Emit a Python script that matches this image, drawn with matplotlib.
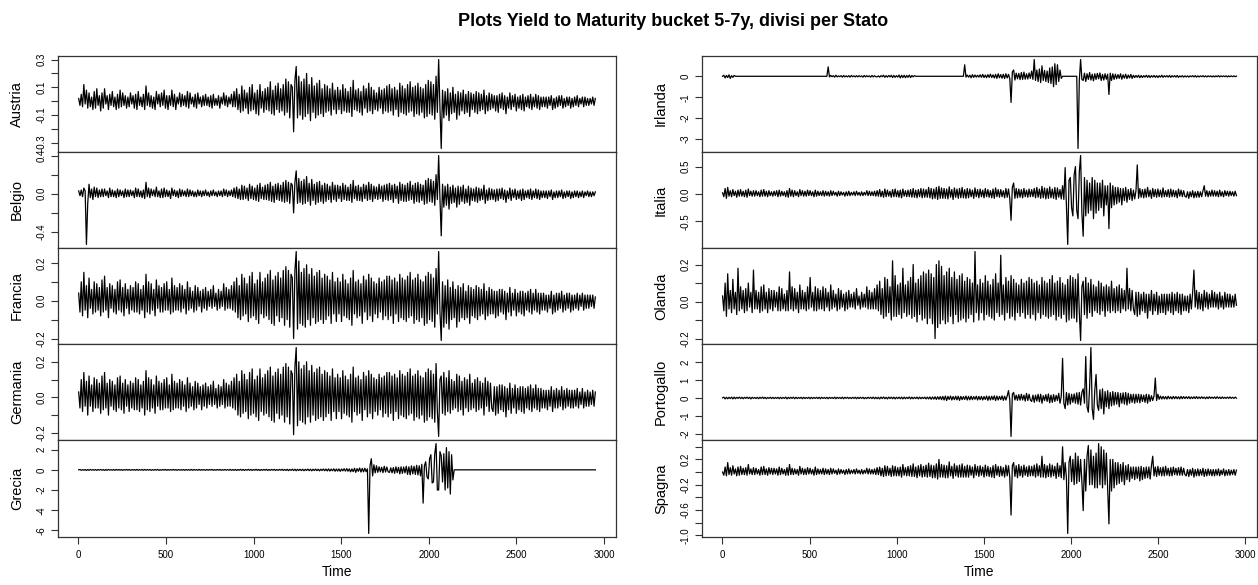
import numpy as np
import matplotlib
matplotlib.use("Agg")
import matplotlib.pyplot as plt

plt.rcParams['font.family'] = ['Liberation Sans', 'DejaVu Sans']

n_obs = 2950

# values in hundredths
austria = [
    2, -3, 5, -4, 12, -2, 8, -5, 6, -4, 3, -6, 7, -5, 9, -3, 4, -7, 6, -5, 9, -2, 4, -6, 5, -3, 7, -4, 3, -6, 5, -5, 8, -4, 6, -3, 4, -5, 3, -4,
    6, -2, 4, -5, 5, -6, 7, -3, 3, -4, 5, -6, 11, -3, 6, -4, 4, -5, 3, -6, 7, -2, 5, -4, 6, -3, 8, -5, 4, -6, 4, -3, 8, -4, 5, -6, 3, -2, 6, -4,
    5, -3, 4, -4, 7, -5, 6, -2, 3, -4, 5, -5, 6, -2, 3, -4, 4, -3, 5, -3, 3, -4, 4, -5, 5, -3, 2, -3, 4, -5, 3, -2, 6, -3, 4, -4, 3, -2, 5, -4,
    7, -4, 9, -6, 5, -8, 11, -7, 8, -5, 6, -9, 10, -7, 12, -6, 6, -9, 8, -10, 12, -5, 7, -8, 9, -6, 10, -7, 14, -9, 8, -10, 11, -6, 13, -8, 9, -7, 12, -10,
    16, -8, 14, -12, 12, 10, -22, 15, 25, -12, 18, -10, 14, -13, 16, -11, 20, -9, 12, -14, 17, -8, 11, -12, 13, -10, 15, -9, 9, -11, 12, -8, 11, -7, 9, -10, 13, -6, 8, -9,
    10, -6, 8, -9, 12, -7, 9, -8, 7, -8, 10, -11, 15, -6, 8, -7, 9, -8, 7, -10, 11, -5, 9, -8, 13, -7, 10, -9, 8, -6, 6, -7, 10, -5, 8, -9, 9, -7, 11, -8,
    12, -7, 9, -10, 10, -6, 8, -11, 13, -8, 11, -9, 9, -10, 12, -8, 14, -7, 10, -11, 11, -9, 13, -10, 10, -8, 9, -12, 12, -11, 15, -9, 14, -10, 12, -13, 18, -8, 30, -5,
    -34, 8, -12, 7, -10, 9, -14, 6, -9, 10, -8, 5, -13, 7, -10, 6, -7, 8, -9, 5, -8, 7, -11, 6, -6, 5, -8, 7, -9, 6, -7, 5, -6, 8, -9, 4, -7, 6, -6, 5,
    -5, 4, -7, 4, -8, 5, -5, 6, -6, 4, -9, 3, -5, 6, -6, 4, -4, 5, -7, 3, -5, 4, -6, 5, -7, 3, -4, 4, -5, 5, -6, 3, -4, 5, -5, 4, -6, 3, -4, 3,
    -4, 3, -5, 3, -3, 4, -6, 2, -5, 3, -4, 4, -3, 4, -5, 2, -4, 3, -3, 3, -5, 2, -4, 3, -3, 4, -4, 2, -2, 3, -4, 3, -3, 2, -3, 2, -2, 3, -3, 2,
]
belgio = [
    3, -2, 4, -3, 6, 3, -53, -10, 10, -4, 5, -6, 7, -3, 6, -4, 4, -3, 5, -3, 5, -2, 3, -4, 6, -3, 4, -3, 3, -4, 5, -3, 4, -2, 3, -4, 5, -3, 4, -3,
    4, -2, 3, -4, 6, -3, 5, -3, 3, -4, 4, -5, 12, -3, 6, -4, 5, -2, 4, -3, 7, -3, 3, -4, 5, -4, 6, -3, 4, -3, 3, -5, 6, -2, 4, -3, 3, -4, 5, -3,
    4, -2, 3, -3, 5, -3, 4, -2, 3, -3, 2, -3, 4, -2, 3, -3, 3, -2, 4, -2, 2, -3, 3, -2, 4, -2, 2, -3, 3, -2, 3, -3, 5, -2, 4, -3, 3, -2, 4, -3,
    6, -4, 7, -5, 5, -6, 9, -6, 8, -5, 6, -7, 10, -5, 8, -6, 6, -7, 9, -8, 11, -5, 7, -6, 9, -6, 10, -7, 12, -8, 8, -9, 10, -6, 11, -7, 9, -8, 12, -9,
    14, -8, 12, -10, 11, 9, -20, 12, 24, -10, 16, -9, 13, -11, 15, -10, 18, -8, 11, -12, 15, -7, 10, -11, 12, -9, 13, -8, 9, -10, 11, -8, 10, -6, 8, -9, 12, -6, 9, -8,
    9, -5, 8, -8, 11, -6, 9, -7, 7, -7, 10, -9, 14, -5, 8, -7, 9, -7, 7, -8, 10, -5, 9, -7, 12, -6, 10, -8, 8, -5, 7, -6, 10, -5, 8, -8, 9, -6, 10, -7,
    11, -6, 9, -9, 10, -5, 8, -10, 12, -7, 10, -8, 9, -8, 11, -7, 13, -6, 9, -10, 11, -8, 12, -9, 10, -7, 9, -11, 14, -10, 16, -8, 15, -9, 13, -12, 20, -6, 40, -5,
    -44, 10, -14, 8, -12, 10, -16, 7, -10, 9, -9, 6, -14, 8, -11, 7, -8, 9, -10, 5, -9, 8, -12, 6, -7, 5, -8, 7, -9, 6, -7, 5, -6, 9, -10, 4, -7, 6, -6, 5,
    -6, 4, -8, 5, -7, 5, -5, 6, -6, 4, -9, 3, -5, 6, -7, 4, -4, 5, -6, 3, -5, 4, -7, 5, -6, 3, -4, 4, -5, 5, -6, 3, -4, 5, -5, 4, -6, 3, -4, 3,
    -4, 3, -5, 3, -3, 4, -6, 2, -4, 3, -4, 3, -3, 4, -5, 2, -4, 3, -3, 3, -5, 2, -4, 3, -3, 3, -4, 2, -3, 3, -4, 2, -2, 3, -3, 2, -3, 2, -2, 2,
]
francia = [
    4, -6, 10, -8, 15, -5, 8, -9, 12, -4, 6, -7, 10, -6, 9, -5, 7, -8, 11, -6, 13, -5, 7, -9, 9, -4, 8, -6, 6, -7, 10, -5, 11, -6, 7, -8, 9, -4, 6, -7,
    8, -5, 7, -6, 10, -6, 9, -7, 6, -5, 8, -9, 14, -6, 10, -7, 9, -5, 6, -8, 11, -4, 8, -6, 7, -6, 9, -5, 10, -5, 6, -7, 12, -6, 8, -5, 7, -5, 9, -6,
    8, -4, 6, -7, 10, -5, 7, -4, 5, -6, 8, -5, 7, -3, 5, -6, 6, -4, 7, -5, 5, -3, 6, -4, 8, -3, 4, -5, 6, -4, 5, -3, 9, -5, 7, -4, 6, -4, 8, -5,
    10, -6, 12, -9, 8, -10, 14, -8, 12, -7, 9, -11, 13, -9, 15, -8, 9, -10, 11, -12, 15, -7, 10, -9, 12, -8, 14, -10, 16, -12, 11, -13, 13, -8, 15, -11, 12, -9, 16, -13,
    18, -10, 16, -14, 14, 12, -20, 16, 26, -15, 21, -12, 15, -13, 17, -14, 19, -10, 14, -13, 17, -9, 13, -12, 15, -11, 16, -10, 12, -12, 14, -10, 13, -8, 11, -12, 15, -7, 10, -11,
    12, -7, 10, -11, 14, -8, 11, -9, 9, -10, 12, -13, 16, -7, 10, -9, 11, -8, 9, -12, 13, -6, 11, -10, 14, -8, 12, -11, 10, -7, 9, -9, 12, -6, 10, -10, 11, -8, 13, -10,
    13, -8, 11, -12, 12, -7, 10, -11, 14, -9, 12, -10, 11, -11, 13, -9, 15, -8, 11, -12, 12, -10, 14, -11, 11, -9, 10, -13, 13, -12, 15, -10, 14, -11, 12, -14, 17, -7, 26, -6,
    -21, 10, -14, 8, -12, 11, -15, 7, -10, 10, -9, 6, -14, 8, -11, 7, -9, 9, -10, 5, -9, 8, -12, 7, -8, 6, -9, 8, -10, 7, -8, 6, -7, 9, -10, 5, -8, 7, -7, 6,
    -7, 5, -9, 5, -8, 6, -6, 6, -7, 5, -10, 4, -6, 7, -8, 4, -5, 6, -8, 4, -6, 5, -7, 5, -8, 4, -5, 5, -6, 6, -7, 4, -5, 6, -6, 4, -7, 4, -5, 4,
    -5, 3, -6, 3, -4, 5, -7, 3, -6, 4, -5, 4, -4, 5, -6, 3, -5, 4, -4, 4, -6, 3, -5, 3, -4, 4, -5, 3, -3, 4, -5, 3, -4, 3, -4, 3, -3, 3, -4, 2,
]
germania = [
    3, -6, 10, -8, 14, -5, 9, -10, 12, -5, 7, -8, 11, -6, 10, -6, 8, -9, 12, -7, 14, -6, 8, -10, 10, -5, 9, -7, 7, -8, 11, -6, 12, -7, 8, -9, 10, -5, 7, -8,
    9, -6, 8, -7, 11, -7, 10, -8, 7, -6, 9, -10, 15, -7, 11, -8, 10, -6, 7, -9, 12, -5, 9, -7, 8, -7, 10, -6, 11, -6, 7, -8, 13, -7, 9, -6, 8, -6, 10, -7,
    9, -5, 7, -8, 11, -6, 8, -5, 6, -7, 9, -6, 8, -4, 6, -7, 7, -5, 8, -6, 6, -4, 7, -5, 9, -4, 5, -6, 7, -5, 6, -4, 10, -6, 8, -5, 7, -5, 9, -6,
    11, -7, 13, -10, 9, -11, 15, -9, 13, -8, 10, -12, 14, -10, 16, -9, 10, -11, 12, -13, 16, -8, 11, -10, 13, -9, 15, -11, 17, -13, 12, -14, 14, -9, 16, -12, 13, -10, 17, -14,
    19, -11, 17, -15, 15, 13, -21, 17, 28, -16, 20, -13, 16, -14, 18, -15, 20, -11, 15, -14, 18, -10, 14, -13, 16, -12, 17, -11, 13, -13, 15, -11, 14, -9, 12, -13, 16, -8, 11, -12,
    13, -8, 11, -12, 15, -9, 12, -10, 10, -11, 13, -14, 17, -8, 11, -10, 12, -9, 10, -13, 14, -7, 12, -11, 15, -9, 13, -12, 11, -8, 10, -10, 13, -7, 11, -11, 12, -9, 14, -11,
    14, -9, 12, -13, 13, -8, 11, -12, 15, -10, 13, -11, 12, -12, 14, -10, 16, -9, 12, -13, 13, -11, 15, -12, 12, -10, 11, -14, 14, -13, 16, -11, 15, -12, 13, -14, 19, -8, -22, 10,
    12, -9, 14, -10, 11, -8, 15, -9, 10, -7, 9, -6, 13, -8, 12, -7, 9, -10, 11, -6, 10, -8, 13, -7, 8, -6, 10, -8, 11, -7, 9, -6, 8, -10, 11, -5, 9, -8, 8, -6,
    -8, 6, -10, 6, -9, 7, -7, 7, -8, 6, -11, 5, -7, 8, -9, 5, -6, 7, -9, 5, -7, 6, -8, 6, -9, 5, -6, 6, -7, 7, -8, 5, -6, 7, -7, 5, -8, 5, -6, 4,
    -6, 4, -7, 4, -5, 6, -8, 4, -6, 5, -6, 4, -5, 6, -7, 4, -6, 5, -5, 4, -6, 4, -6, 4, -5, 5, -6, 3, -4, 5, -6, 3, -5, 4, -5, 3, -4, 4, -5, 3,
]
grecia = [
    0, 3, -5, 2, -4, 3, -6, 3, -5, 4, -3, 2, -4, 3, -5, 3, -3, 4, -4, 2, -6, 3, -5, 4, -3, 2, -4, 3, -5, 4, -3, 3, -4, 3, -5, 2, -3, 4, -4, 3,
    -4, 2, -3, 3, -5, 4, -4, 2, -3, 3, -5, 4, -4, 3, -3, 3, -5, 2, -4, 3, -3, 4, -5, 2, -4, 3, -3, 4, -5, 3, -4, 2, -3, 4, -4, 3, -5, 3, -3, 2,
    -4, 3, -5, 3, -3, 2, -4, 4, -5, 3, -3, 2, -4, 4, -5, 3, -3, 2, -4, 3, -4, 3, -3, 4, -5, 2, -4, 3, -3, 4, -5, 2, -4, 3, -3, 3, -4, 4, -5, 3,
    -5, 4, -6, 3, -4, 5, -5, 4, -6, 3, -4, 5, -5, 4, -6, 3, -4, 5, -5, 4, -6, 3, -5, 4, -4, 5, -6, 3, -5, 4, -4, 5, -6, 3, -5, 4, -4, 5, -6, 4,
    -6, 5, -8, 4, -5, 6, -7, 6, -9, 5, -6, 5, -7, 6, -9, 5, -6, 7, -8, 6, -10, 6, -7, 7, -8, 6, -10, 6, -7, 8, -9, 8, -11, 9, -12, 7, -9, 10, -14, 8,
    -12, 9, -15, 8, -10, 11, -13, 12, -14, 10, -20, 9, -18, 15, -25, 12, -15, 18, -22, 14, -20, 16, -18, 10, -630, 40, 110, -60, 50, -30, 40, -25, 30, -20, 25, -28, 35, -22, 28, -20,
    -25, 20, -30, 22, -35, 30, -28, 25, -40, 30, -35, 28, -30, 35, -45, 30, -50, 40, -40, 35, -45, 45, -50, 40, -60, 55, -330, 40, 80, -70, -90, 110, 150, -130, -120, 160, 260, -200, -200, 180,
    140, -120, 160, -200, 220, -180, 180, -240, 150, -100, 0, 0, 0, 0, 0, 0, 0, 0, 0, 0, 0, 0, 0, 0, 0, 0, 0, 0, 0, 0, 0, 0, 0, 0, 0, 0, 0, 0, 0, 0,
    0, 0, 0, 0, 0, 0, 0, 0, 0, 0, 0, 0, 0, 0, 0, 0, 0, 0, 0, 0, 0, 0, 0, 0, 0, 0, 0, 0, 0, 0, 0, 0, 0, 0, 0, 0, 0, 0, 0, 0,
    0, 0, 0, 0, 0, 0, 0, 0, 0, 0, 0, 0, 0, 0, 0, 0, 0, 0, 0, 0, 0, 0, 0, 0, 0, 0, 0, 0, 0, 0, 0, 0, 0, 0, 0, 0, 0, 0, 0, 0,
]
irlanda = [
    0, 5, -8, 4, -6, 7, -10, 3, -5, 4, 0, 0, 0, 0, 0, 0, 0, 0, 0, 0, 0, 0, 0, 0, 0, 0, 0, 0, 0, 0, 0, 0, 0, 0, 0, 0, 0, 0, 0, 0,
    0, 0, 0, 0, 0, 0, 0, 0, 0, 0, 0, 0, 0, 0, 0, 0, 0, 0, 0, 0, 0, 0, 0, 0, 0, 0, 0, 0, 0, 0, 0, 0, 0, 0, 0, 0, 0, 0, 0, 0,
    0, 0, 45, -3, 4, -2, 3, -4, 5, -3, 2, -2, 3, -4, 4, -3, 2, -3, 3, -4, 4, -2, 2, -3, 3, -3, 3, -2, 2, -4, 4, -3, 3, -2, 2, -4, 4, -3, 3, -2,
    -3, 2, -4, 3, -2, 5, -5, 3, -4, 4, -3, 5, -6, 4, -5, 3, -4, 6, -8, 5, -6, 5, -7, 4, -5, 6, -6, 4, -3, 3, 0, 0, 0, 0, 0, 0, 0, 0, 0, 0,
    0, 0, 0, 0, 0, 0, 0, 0, 0, 0, 0, 0, 0, 0, 0, 0, 0, 0, 0, 0, 0, 0, 0, 0, 0, 0, 0, 0, 55, -4, 6, -4, 5, -7, 8, -5, 6, -4, 5, -4,
    7, -5, 9, -6, 6, -7, 8, -5, 10, -6, 7, -8, 9, -10, 12, -7, 8, -9, 10, -11, 12, -8, 9, -10, -125, 20, 30, -18, 15, -12, 14, -16, 18, -15, 20, -14, 12, -13, 16, -10,
    25, -15, 80, -20, 30, -25, 35, -30, 50, -20, 28, -25, 25, -30, 40, -35, 45, -50, 60, -40, 55, -25, 30, -10, 0, 0, 0, 0, 0, 0, 0, 0, 0, 0, 0, 0, -345, -20, 80, -15,
    -20, 15, -25, 12, -15, 18, -18, 10, -22, 12, -15, 14, -12, 16, -20, 9, -18, 12, -14, 10, -87, 15, -20, 12, -15, 10, -12, 8, -10, 12, -14, 7, -9, 10, -11, 6, -8, 9, -10, 5,
    -6, 4, -5, 5, -7, 4, -6, 3, -4, 5, -5, 4, -6, 3, -4, 4, -5, 3, -6, 3, -4, 5, -5, 3, -3, 3, -4, 4, -5, 3, -3, 3, -4, 4, -5, 2, -3, 3, -4, 2,
    -3, 2, -4, 2, -2, 3, -3, 3, -4, 2, -3, 2, -2, 3, -3, 2, -3, 2, -2, 2, -3, 2, -3, 2, -2, 3, -3, 2, -2, 2, -2, 2, -3, 2, -2, 2, -2, 2, -2, 1,
]
italia = [
    2, -5, 10, -8, 12, -4, 6, -5, 8, -3, 5, -6, 7, -4, 8, -4, 5, -5, 7, -6, 9, -3, 5, -4, 6, -4, 6, -3, 4, -5, 7, -4, 8, -4, 5, -5, 6, -3, 4, -4,
    5, -3, 6, -5, 7, -4, 5, -3, 4, -5, 6, -6, 10, -4, 7, -5, 6, -3, 4, -5, 8, -3, 6, -4, 5, -4, 7, -3, 6, -3, 4, -5, 7, -4, 5, -3, 4, -3, 6, -4,
    5, -3, 4, -4, 6, -3, 5, -2, 3, -4, 5, -3, 4, -2, 3, -4, 4, -3, 5, -3, 3, -2, 4, -3, 5, -2, 3, -3, 4, -3, 3, -2, 6, -3, 5, -3, 4, -3, 5, -4,
    6, -4, 8, -5, 5, -6, 9, -5, 7, -4, 5, -6, 8, -5, 9, -5, 6, -6, 7, -7, 9, -4, 6, -5, 7, -5, 8, -6, 10, -6, 7, -7, 8, -5, 10, -7, 9, -6, 8, -6,
    12, -7, 10, -9, 9, -8, 12, -10, 14, -8, 11, -8, 10, -8, 9, -9, 13, -6, 8, -10, 11, -6, 9, -8, 10, -7, 12, -7, 8, -8, 10, -7, 9, -5, 7, -8, 11, -5, 8, -7,
    9, -5, 7, -7, 10, -5, 8, -6, 6, -7, 9, -8, 11, -5, 8, -6, 8, -5, 6, -7, 10, -6, 9, -8, -48, 12, 20, -8, 10, -7, 9, -6, 8, -7, 10, -5, 7, -6, 9, -5,
    8, -5, 10, -7, 12, -6, 9, -8, 14, -7, 11, -9, 10, -8, 13, -7, 9, -8, 12, -10, 11, -6, 8, -9, 15, -10, 48, -20, -92, 25, 30, -25, -40, 35, 50, -30, -45, 40, 70, -35,
    -77, 30, -40, 25, -35, 20, -30, 30, -45, 25, -35, 20, -30, 20, -25, 25, -40, 15, -20, 15, -63, 20, -25, 15, -20, 12, -18, 12, -15, 10, -20, 10, -12, 12, -15, 8, -10, 10, -12, 7,
    -9, 6, 53, -8, 10, -6, 8, -7, 9, -6, 12, -5, 7, -8, 10, -5, 8, -6, 9, -5, 7, -6, 11, -5, 6, -5, 8, -6, 9, -5, 7, -5, 6, -7, 9, -4, 7, -5, 6, -4,
    -6, 4, -8, 4, -5, 6, -7, 4, -6, 5, -6, 4, -5, 6, 15, -4, 6, -5, 5, -4, 7, -4, 6, -4, 5, -5, 7, -4, 4, -5, 6, -3, 5, -4, 5, -3, 4, -4, 5, -3,
]
olanda = [
    3, -5, 10, -8, 15, -4, 6, -6, 12, -4, 5, -7, 18, -5, 8, -4, 6, -6, 7, -5, 10, -3, 5, -6, 17, -4, 6, -4, 5, -6, 8, -5, 9, -4, 5, -6, 7, -4, 6, -5,
    6, -3, 5, -5, 8, -5, 7, -4, 4, -5, 6, -5, 16, -4, 8, -5, 7, -4, 5, -6, 9, -4, 6, -4, 5, -5, 8, -4, 13, -3, 5, -5, 8, -5, 7, -4, 6, -4, 8, -5,
    7, -3, 5, -5, 9, -4, 6, -3, 4, -5, 7, -4, 6, -3, 4, -5, 5, -4, 6, -3, 4, -3, 5, -4, 7, -2, 3, -4, 5, -3, 4, -3, 8, -4, 6, -4, 5, -4, 7, -4,
    9, -5, 11, -7, 7, -9, 13, -8, 12, -6, 8, -10, 22, -8, 14, -8, 9, -7, 10, -9, 18, -6, 9, -8, 11, -7, 13, -9, 20, -8, 10, -11, 12, -7, 14, -10, 16, -9, 15, -12,
    17, -9, 15, -12, 13, -20, 20, -14, 22, -12, 19, -10, 14, -12, 16, -11, 18, -8, 13, -12, 16, -7, 12, -11, 14, -10, 15, -9, 11, -11, 13, -9, 12, -7, 10, -11, 27, -6, 9, -10,
    12, -6, 10, -10, 14, -7, 11, -8, 9, -9, 12, -10, 15, -6, 10, -8, 25, -7, 9, -10, 13, -6, 11, -9, 14, -8, 12, -10, 10, -6, 9, -8, 12, -6, 10, -9, 11, -7, 13, -9,
    12, -7, 10, -10, 11, -6, 9, -9, 13, -7, 11, -8, 10, -9, 12, -8, 14, -7, 10, -10, 11, -8, 13, -9, 10, -7, 9, -11, 12, -10, 14, -9, 13, -9, 12, -11, 15, -6, -21, 8,
    11, -7, 13, -9, 10, -6, 12, -8, 9, -5, 8, -6, 11, -7, 10, -5, 8, -8, 9, -5, 8, -6, 11, -5, 7, -6, 8, -5, 9, -6, 7, -4, 6, -5, 18, -4, 7, -5, 6, -4,
    -7, 5, -8, 5, -7, 4, -5, 5, -6, 4, -9, 4, -5, 6, -7, 4, -5, 5, -7, 3, -6, 4, -6, 4, -7, 4, -5, 4, -6, 5, -7, 4, -5, 5, -6, 4, -7, 4, -5, 3,
    -5, 3, -6, 4, -4, 5, 17, -3, 6, -4, 5, -4, 4, -5, 6, -3, 5, -4, 4, -3, 6, -3, 5, -3, 4, -4, 5, -3, 3, -4, 5, -3, 4, -3, 4, -3, 3, -3, 4, -2,
]
portogallo = [
    0, 4, -6, 3, -5, 3, -4, 4, -6, 4, -5, 3, -3, 4, -4, 3, -5, 3, -3, 4, -4, 3, -6, 3, -3, 2, -4, 3, -5, 3, -3, 4, -4, 3, -5, 2, -3, 3, -4, 3,
    -4, 2, -3, 3, -5, 3, -4, 2, -3, 4, -6, 3, -4, 3, -3, 4, -5, 3, -4, 2, -3, 3, -5, 3, -4, 2, -3, 3, -5, 3, -4, 2, -3, 3, -4, 3, -5, 3, -3, 2,
    -4, 3, -5, 3, -3, 2, -4, 4, -5, 3, -3, 2, -4, 4, -5, 3, -3, 3, -4, 2, -4, 3, -3, 3, -5, 3, -4, 3, -3, 3, -5, 2, -4, 3, -3, 3, -4, 4, -5, 3,
    -5, 3, -6, 4, -4, 5, -5, 3, -6, 4, -4, 4, -5, 4, -6, 3, -4, 4, -5, 4, -6, 4, -5, 3, -4, 5, -6, 4, -5, 3, -4, 4, -6, 4, -5, 3, -4, 4, -6, 4,
    -6, 5, -8, 5, -7, 6, -9, 6, -8, 7, -10, 8, -12, 10, -15, 8, -9, 10, -12, 7, -10, 9, -11, 9, -14, 8, -10, 7, -9, 10, -12, 8, -11, 9, -10, 7, -8, 9, -12, 8,
    -10, 8, -12, 7, -9, 10, -14, 9, -12, 9, -10, 11, -15, 10, -12, 8, -10, 11, -14, 9, -12, 10, 40, -10, -215, 20, 30, -12, 15, -14, 18, -13, 20, -12, 15, -18, 25, -15, 20, -12,
    -20, 15, -25, 15, -18, 20, -22, 20, -30, 12, -15, 18, -20, 22, -28, 15, -25, 18, -20, 14, -15, 25, -30, 10, 220, -30, -60, 30, -40, 25, -35, 20, -25, 22, -30, 28, -35, 30, -40, 30,
    50, -30, 230, -50, -80, 60, 280, -60, -120, 40, 130, -40, -70, 45, -60, 50, -90, 35, -50, 40, -60, 30, -45, 35, -40, 30, -35, 30, -50, 25, -30, 28, -35, 30, -40, 25, -30, 20, -25, 20,
    -30, 20, -25, 20, -28, 18, -20, 15, -25, 20, -30, 18, -20, 12, -15, 10, 110, -15, 20, -8, 10, -7, 8, -6, 7, -7, 9, -5, 6, -6, 8, -5, 7, -5, 6, -6, 8, -5, 7, -4,
    6, -4, 7, -5, 5, -4, 6, -4, 7, -4, 5, -4, 6, -3, 4, -5, 5, -4, 6, -3, 4, -3, 5, -4, 6, -3, 4, -4, 5, -3, 3, -3, 4, -3, 5, -3, 3, -3, 4, -2,
]
spagna = [
    0, -5, 8, -6, 15, -4, 7, -5, 10, -3, 5, -6, 8, -5, 9, -4, 6, -4, 7, -5, 12, -3, 5, -4, 7, -4, 6, -3, 4, -5, 8, -4, 9, -4, 5, -5, 7, -3, 6, -4,
    6, -3, 5, -5, 8, -4, 6, -3, 4, -5, 7, -5, 12, -4, 6, -4, 5, -3, 4, -5, 9, -3, 6, -4, 5, -4, 7, -3, 6, -3, 4, -5, 8, -4, 5, -3, 4, -3, 6, -4,
    5, -3, 4, -4, 6, -3, 5, -2, 3, -4, 5, -3, 4, -2, 3, -4, 4, -3, 5, -3, 3, -2, 4, -3, 5, -2, 3, -3, 4, -3, 3, -2, 6, -3, 5, -3, 4, -3, 5, -4,
    7, -4, 8, -6, 6, -7, 10, -6, 9, -5, 6, -7, 10, -6, 9, -6, 7, -6, 8, -8, 12, -5, 7, -6, 9, -6, 10, -7, 13, -7, 8, -9, 10, -6, 12, -8, 9, -7, 11, -8,
    14, -7, 11, -9, 10, -9, 13, -11, 20, -8, 12, -8, 11, -9, 10, -9, 16, -6, 9, -10, 13, -6, 10, -8, 11, -8, 13, -8, 9, -8, 11, -8, 10, -5, 8, -9, 12, -5, 9, -7,
    10, -5, 8, -8, 11, -6, 9, -7, 7, -8, 10, -9, 12, -5, 9, -7, 9, -6, 7, -8, 11, -6, 10, -8, -68, 10, 15, -7, 10, -9, 12, -6, 9, -8, 11, -5, 8, -7, 10, -6,
    9, -6, 11, -8, 13, -6, 10, -8, 25, -8, 12, -9, 10, -7, 13, -8, 11, -6, 9, -10, 14, -7, 10, -9, 40, -12, 15, -10, -97, 15, 25, -15, 20, -20, 30, -18, 25, -15, 20, -15,
    -61, 20, -30, 25, 42, -20, 35, -20, 25, -25, 30, -25, 45, -20, 40, -25, 35, -20, 30, -25, -82, 20, -30, 20, -25, 15, -20, 15, -18, 12, -15, 15, -20, 10, -12, 12, -15, 8, -10, 8,
    -12, 8, -10, 8, -14, 9, -12, 7, -10, 8, -9, 8, -11, 10, 25, -6, 8, -7, 9, -5, 7, -6, 8, -6, 9, -5, 6, -6, 7, -6, 8, -4, 6, -5, 7, -5, 8, -5, 6, -4,
    -6, 4, -7, 4, -5, 6, -8, 4, -6, 5, -6, 4, -5, 6, -7, 4, -6, 5, -5, 4, -6, 4, -6, 4, -5, 5, -6, 3, -4, 5, -6, 3, -5, 4, -5, 3, -4, 4, -5, 3,
]

# panel name, values, y tick positions, y tick labels (R drops overlapping ones)
left_panels = [
    ("Austria", austria, [-0.3, -0.2, -0.1, 0, 0.1, 0.2, 0.3], ["-0.3", "", "-0.1", "", "0.1", "", "0.3"]),
    ("Belgio", belgio, [-0.4, -0.2, 0, 0.2, 0.4], ["-0.4", "", "0.0", "", "0.4"]),
    ("Francia", francia, [-0.2, -0.1, 0, 0.1, 0.2], ["-0.2", "", "0.0", "", "0.2"]),
    ("Germania", germania, [-0.2, -0.1, 0, 0.1, 0.2], ["-0.2", "", "0.0", "", "0.2"]),
    ("Grecia", grecia, [-6, -4, -2, 0, 2], ["-6", "-4", "-2", "0", "2"]),
]
right_panels = [
    ("Irlanda", irlanda, [-3, -2, -1, 0], ["-3", "-2", "-1", "0"]),
    ("Italia", italia, [-0.5, 0, 0.5], ["-0.5", "0.0", "0.5"]),
    ("Olanda", olanda, [-0.2, -0.1, 0, 0.1, 0.2], ["-0.2", "", "0.0", "", "0.2"]),
    ("Portogallo", portogallo, [-2, -1, 0, 1, 2], ["-2", "-1", "0", "1", "2"]),
    ("Spagna", spagna, [-1.0, -0.8, -0.6, -0.4, -0.2, 0, 0.2, 0.4],
     ["-1.0", "", "-0.6", "", "-0.2", "", "0.2", ""]),
]
x_ticks = [0, 500, 1000, 1500, 2000, 2500, 3000]

W, H = 1258, 585
fig = plt.figure(figsize=(W / 100, H / 100), dpi=100)

col_x = [(58, 616), (702, 1257)]
row_y = [56, 152, 248, 344, 440, 537]
frame = '#333333'

for c, panels in enumerate([left_panels, right_panels]):
    x0, x1 = col_x[c]
    for r, (name, vals, yt, ytl) in enumerate(panels):
        top, bot = row_y[r], row_y[r + 1]
        ax = fig.add_axes([x0 / W, 1 - bot / H, (x1 - x0) / W, (bot - top) / H])
        y = np.array(vals) / 100
        t = np.linspace(1, n_obs, len(y))
        ax.plot(t, y, color='black', lw=0.9)

        # R-style 4% padding around the data range
        xs = t.max() - t.min()
        ax.set_xlim(t.min() - 0.04 * xs, t.max() + 0.04 * xs)
        ys = y.max() - y.min()
        ax.set_ylim(y.min() - 0.04 * ys, y.max() + 0.04 * ys)

        ax.set_yticks(yt)
        ax.set_yticklabels(ytl, rotation=90, va='center', fontsize=7)
        ax.set_xticks(x_ticks)
        if r == len(panels) - 1:
            ax.set_xticklabels([str(v) for v in x_ticks], fontsize=7)
            ax.set_xlabel("Time", fontsize=10, labelpad=4)
        else:
            ax.tick_params(axis='x', bottom=False, labelbottom=False)
        ax.tick_params(direction='out', length=5, width=0.8, color=frame, pad=4)
        ax.tick_params(axis='y', pad=3.5)
        for s in ax.spines.values():
            s.set_color(frame)
            s.set_linewidth(0.9)
        fig.text((x0 - 41) / W, 1 - (top + bot) / 2 / H, name, rotation=90,
                 ha='center', va='center', fontsize=10.5)

fig.text(673 / W, 1 - 21 / H, "Plots Yield to Maturity bucket 5-7y, divisi per Stato",
         ha='center', va='center', fontsize=13, fontweight='bold')

fig.savefig("out.png", dpi=100)
